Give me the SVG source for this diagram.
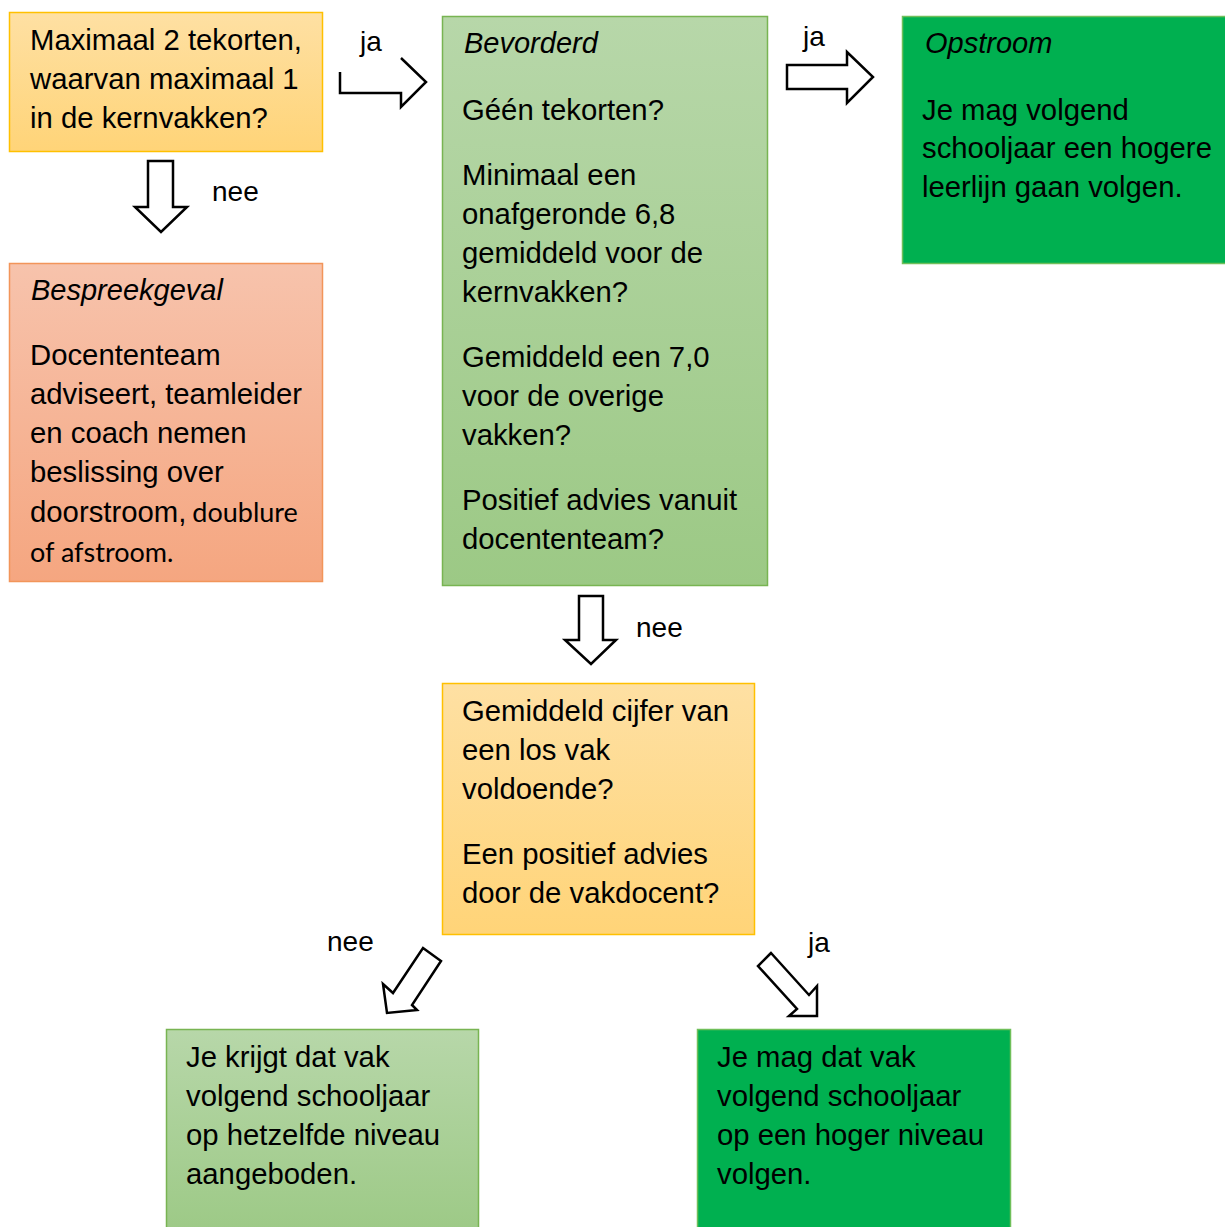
<svg xmlns="http://www.w3.org/2000/svg" width="1225" height="1227" viewBox="0 0 1225 1227">
<defs>
<linearGradient id="gOrange" x1="0" y1="0" x2="0" y2="1">
<stop offset="0" stop-color="#fee0a3"/><stop offset="1" stop-color="#ffd478"/>
</linearGradient>
<linearGradient id="gGreen" x1="0" y1="0" x2="0" y2="1">
<stop offset="0" stop-color="#b7d7a9"/><stop offset="1" stop-color="#9cc985"/>
</linearGradient>
<linearGradient id="gRed" x1="0" y1="0" x2="0" y2="1">
<stop offset="0" stop-color="#f7c3ac"/><stop offset="1" stop-color="#f5a680"/>
</linearGradient>
</defs>
<style>
text{font-family:"Liberation Sans",Arial,sans-serif;font-size:29.3px;fill:#000}
.it{font-style:italic;font-size:29px}
.cal{font-family:Lato,"Noto Sans",sans-serif;font-size:27px}
.orange{fill:url(#gOrange);stroke:#ffc000;stroke-width:1.5}
.lgreen{fill:url(#gGreen);stroke:#78b452;stroke-width:1.5}
.dgreen{fill:#00b050;stroke:#6fbf5a;stroke-width:1.5}
.red{fill:url(#gRed);stroke:#f2955a;stroke-width:1.5}
.arr{fill:none;stroke:#000;stroke-width:2.5;stroke-linejoin:miter}
.lbl{font-size:28px}
</style>
<rect width="1225" height="1227" fill="#fff"/>

<g id="node-maximaal">
<rect class="orange" x="9.5" y="12.5" width="313" height="139"/>
<text x="30" y="50">Maximaal 2 tekorten,</text>
<text x="30" y="89">waarvan maximaal 1</text>
<text x="30" y="128">in de kernvakken?</text>
</g>

<g id="node-bevorderd">
<rect class="lgreen" x="442.5" y="16.5" width="325" height="569"/>
<text class="it" x="464" y="53">Bevorderd</text>
<text x="462" y="120">Géén tekorten?</text>
<text x="462" y="185">Minimaal een</text>
<text x="462" y="224">onafgeronde 6,8</text>
<text x="462" y="263">gemiddeld voor de</text>
<text x="462" y="302">kernvakken?</text>
<text x="462" y="367">Gemiddeld een 7,0</text>
<text x="462" y="406">voor de overige</text>
<text x="462" y="445">vakken?</text>
<text x="462" y="510">Positief advies vanuit</text>
<text x="462" y="549">docententeam?</text>
</g>

<g id="node-opstroom">
<rect class="dgreen" x="902.5" y="16.5" width="330" height="247"/>
<text class="it" x="925" y="53">Opstroom</text>
<text x="922" y="120">Je mag volgend</text>
<text x="922" y="158">schooljaar een hogere</text>
<text x="922" y="197">leerlijn gaan volgen.</text>
</g>

<g id="node-bespreekgeval">
<rect class="red" x="9.5" y="263.5" width="313" height="318"/>
<text class="it" x="31" y="300">Bespreekgeval</text>
<text x="30" y="365">Docententeam</text>
<text x="30" y="404">adviseert, teamleider</text>
<text x="30" y="443">en coach nemen</text>
<text x="30" y="482">beslissing over</text>
<text x="30" y="522">doorstroom,<tspan class="cal" dx="6">doublure</tspan></text>
<text class="cal" x="30" y="562">of afstroom.</text>
</g>

<g id="node-gemiddeld">
<rect class="orange" x="442.5" y="683.5" width="312" height="251"/>
<text x="462" y="721">Gemiddeld cijfer van</text>
<text x="462" y="760">een los vak</text>
<text x="462" y="799">voldoende?</text>
<text x="462" y="864">Een positief advies</text>
<text x="462" y="903">door de vakdocent?</text>
</g>

<g id="node-zelfde-niveau">
<rect class="lgreen" x="166.5" y="1029.5" width="312" height="210"/>
<text x="186" y="1067">Je krijgt dat vak</text>
<text x="186" y="1106">volgend schooljaar</text>
<text x="186" y="1145">op hetzelfde niveau</text>
<text x="186" y="1184">aangeboden.</text>
</g>

<g id="node-hoger-niveau">
<rect class="dgreen" x="697.5" y="1029.5" width="313" height="210"/>
<text x="717" y="1067">Je mag dat vak</text>
<text x="717" y="1106">volgend schooljaar</text>
<text x="717" y="1145">op een hoger niveau</text>
<text x="717" y="1184">volgen.</text>
</g>

<g id="connectors">
<polyline class="arr" points="340,72 340,93 401,93 401,107 426,82 401,58"/>
<text class="lbl" x="360" y="51">ja</text>

<polygon class="arr" points="148,161 173,161 173,207 187,207 161,232 135,207 148,207"/>
<text class="lbl" x="212" y="201">nee</text>

<polygon class="arr" points="787,65 847,65 847,52 873,77 847,103 847,89 787,89"/>
<text class="lbl" x="803" y="46">ja</text>

<polygon class="arr" points="579,596 603,596 603,640 616,640 591,664 565,640 579,640"/>
<text class="lbl" x="636" y="637">nee</text>

<polygon class="arr" points="423,948 441,961 412,1005 417,1010 387,1013 383,984 393,993"/>
<text class="lbl" x="327" y="951">nee</text>

<polygon class="arr" points="771,953 758,966 797,1009 789,1016 817,1016 817,986 809,995"/>
<text class="lbl" x="808" y="952">ja</text>
</g>
</svg>
